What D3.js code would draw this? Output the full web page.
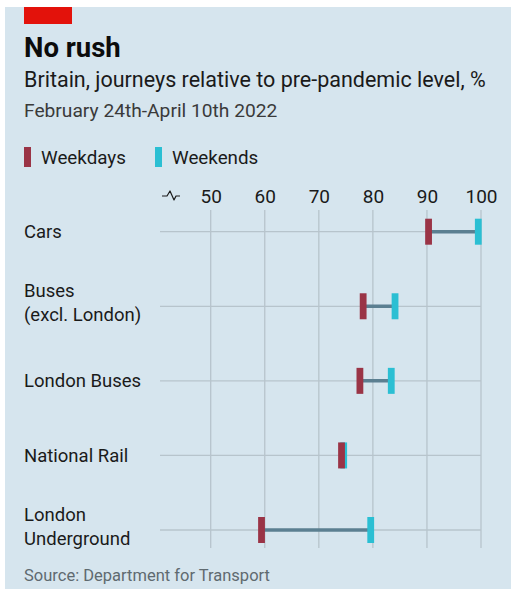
<!DOCTYPE html>
<html>
<head>
<meta charset="utf-8">
<script src="https://cdn.jsdelivr.net/npm/d3@7"></script>
<style>
  body { margin: 0; background: #fff; }
  text { font-family: Roboto, "Noto Sans", sans-serif; }
</style>
</head>
<body>
<div id="chart"></div>
<script>
// data
var categories = ["Cars", "Buses (excl. London)", "London Buses", "National Rail", "London Underground"];
var labelLines = [["Cars"], ["Buses", "(excl. London)"], ["London Buses"], ["National Rail"], ["London", "Underground"]];
var weekdays = [90.3, 78.2, 77.6, 74.2, 59.4];
var weekends = [99.5, 84.1, 83.4, 74.6, 79.6];
var tickValues = [50, 60, 70, 80, 90, 100];

var W = 511, H = 593;
var red = "#9a3446", cyan = "#2bbfd3", link = "#5b7f91", grid = "#b7c4cc";

var svg = d3.select("#chart").append("svg")
    .attr("width", W)
    .attr("height", H);

// panel background
svg.append("rect")
    .attr("x", 5).attr("y", 7)
    .attr("width", W - 5).attr("height", 582)
    .attr("fill", "#d6e5ee");

svg.append("rect")
    .attr("x", 24).attr("y", 7)
    .attr("width", 48).attr("height", 17)
    .attr("fill", "#e3120b");

svg.append("text")
    .attr("x", 24).attr("y", 57)
    .attr("font-size", 27.5).attr("font-weight", 700)
    .attr("fill", "#0c0c0c")
    .text("No rush");

svg.append("text")
    .attr("x", 24).attr("y", 87)
    .attr("font-size", 21.5)
    .attr("fill", "#1a1a1a")
    .text("Britain, journeys relative to pre-pandemic level, %");

svg.append("text")
    .attr("x", 24).attr("y", 117)
    .attr("font-size", 19.2)
    .attr("fill", "#3a3a3a")
    .text("February 24th-April 10th 2022");

// legend
var legendItems = [{name: "Weekdays", color: red, x: 24}, {name: "Weekends", color: cyan, x: 155}];
var lg = svg.append("g").attr("class", "legend");
lg.selectAll("g")
    .data(legendItems)
    .enter().append("g")
    .each(function(d) {
        var g = d3.select(this);
        g.append("rect")
            .attr("x", d.x).attr("y", 147)
            .attr("width", 7).attr("height", 20)
            .attr("fill", d.color);
        g.append("text")
            .attr("x", d.x + 17).attr("y", 164)
            .attr("font-size", 18.8)
            .attr("fill", "#1a1a1a")
            .text(d.name);
    });

// scales
var x = d3.scaleLinear().domain([50, 100]).range([210.7, 481]);
var y = d3.scalePoint().domain(categories).range([231.7, 530]);

// vertical gridlines
svg.append("g")
    .selectAll("line")
    .data(tickValues)
    .enter().append("line")
    .attr("x1", function(d) { return x(d); })
    .attr("x2", function(d) { return x(d); })
    .attr("y1", 210).attr("y2", 548)
    .attr("stroke", grid).attr("stroke-width", 1.3);

// tick labels via axis
var xaxis = d3.axisTop(x).tickValues(tickValues).tickSize(0).tickPadding(0);
var ax = svg.append("g")
    .attr("transform", "translate(0,203)")
    .call(xaxis);
ax.select(".domain").remove();
ax.selectAll("text")
    .attr("font-family", "Roboto, sans-serif")
    .attr("font-size", 19)
    .attr("fill", "#1a1a1a")
    .attr("dy", 0);

// axis break symbol
svg.append("path")
    .attr("d", "M162,196 L167,196 L170,191 L174,200 L176,196 L180,196")
    .attr("fill", "none")
    .attr("stroke", "#1a1a1a")
    .attr("stroke-width", 1.2)
    .attr("stroke-linejoin", "round");

// rows
var rows = categories.map(function(c, i) {
    return {cat: c, lines: labelLines[i], wd: weekdays[i], we: weekends[i]};
});

var row = svg.selectAll(".row")
    .data(rows)
    .enter().append("g")
    .attr("class", "row");

row.append("line")
    .attr("x1", 160).attr("x2", x(100))
    .attr("y1", function(d) { return y(d.cat); })
    .attr("y2", function(d) { return y(d.cat); })
    .attr("stroke", grid).attr("stroke-width", 1.3);

row.append("line")
    .attr("x1", function(d) { return x(d.wd); })
    .attr("x2", function(d) { return x(d.we); })
    .attr("y1", function(d) { return y(d.cat); })
    .attr("y2", function(d) { return y(d.cat); })
    .attr("stroke", link).attr("stroke-width", 3.5);

row.append("rect")
    .attr("x", function(d) { return x(d.we) - 3.4; })
    .attr("y", function(d) { return y(d.cat) - 13; })
    .attr("width", 6.8).attr("height", 26)
    .attr("fill", cyan);

row.append("rect")
    .attr("x", function(d) { return x(d.wd) - 3.4; })
    .attr("y", function(d) { return y(d.cat) - 13; })
    .attr("width", 6.8).attr("height", 26)
    .attr("fill", red);

row.each(function(d) {
    var t = d3.select(this).append("text")
        .attr("x", 24)
        .attr("font-size", 18.5)
        .attr("fill", "#1a1a1a");
    var base = d.lines.length === 1 ? y(d.cat) + 6.5 : y(d.cat) - 9.5;
    d.lines.forEach(function(l, i) {
        t.append("tspan")
            .attr("x", 24)
            .attr("y", base + i * 24.5)
            .text(l);
    });
});

svg.append("text")
    .attr("x", 24).attr("y", 581)
    .attr("font-size", 16.5)
    .attr("fill", "#5f6a70")
    .text("Source: Department for Transport");
</script>
</body>
</html>
